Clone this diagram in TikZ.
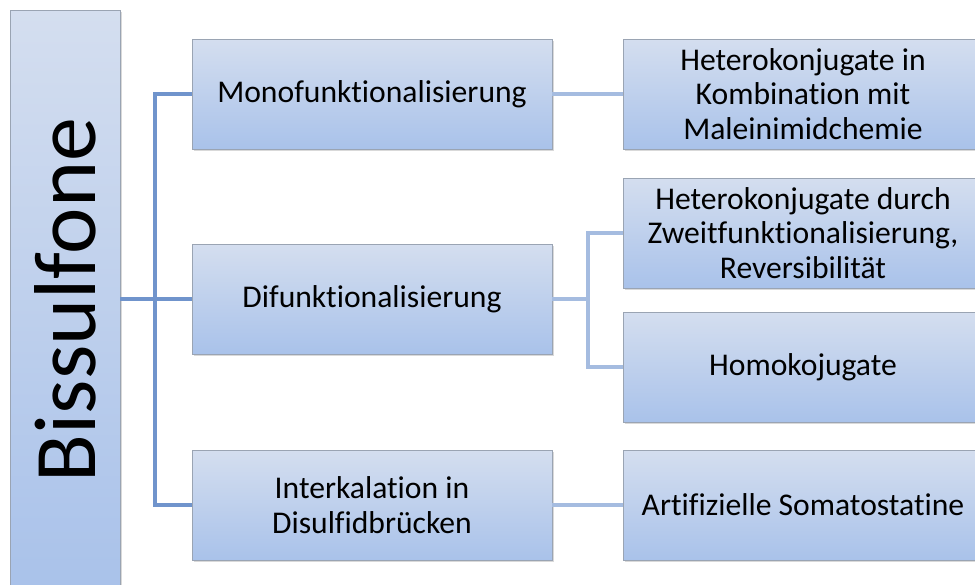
\documentclass[tikz,border=0pt]{standalone}
\usepackage{fontspec}
\setmainfont{Carlito}[Ligatures=NoCommon]
\usepackage{xcolor}
\usetikzlibrary{positioning,shadows}
\definecolor{boxtop}{HTML}{D4DEEF}
\definecolor{boxbot}{HTML}{A9C2EA}
\definecolor{boxline}{HTML}{9AA4B3}
\definecolor{treedark}{HTML}{7094CC}
\definecolor{treelight}{HTML}{A5BCE0}

\begin{document}
\begin{tikzpicture}[
    x=0.02cm, y=-0.02cm,
    item/.style={draw=boxline, thin, top color=boxtop, bottom color=boxbot, minimum width=7.2cm, minimum height=2.2cm, align=center, inner sep=2pt, font=\fontsize{18}{19.8}\selectfont, drop shadow={opacity=0.3, shadow xshift=1.3pt, shadow yshift=-1.3pt}},
    treeL/.style={line width=2pt, draw=treedark},
    treeR/.style={line width=2pt, draw=treelight}
]
    \useasboundingbox (0,0) rectangle (975,585);

    % root
    \node[item, minimum width=2.2cm, minimum height=11.6cm, font=\fontsize{50}{55}\selectfont] (bis) at (65,300) {\rotatebox{90}{Bissulfone}};

    % middle column
    \node[item] (mono) at (372,94) {Monofunktionalisierung};
    \node[item] (di) at (372,299) {Difunktionalisierung};
    \node[item] (inter) at (372,505) {Interkalation in\\Disulfidbrücken};

    % right column
    \node[item] (hetmal) at (803,94) {Heterokonjugate in\\Kombination mit\\Maleinimidchemie};
    \node[item] (hetzw) at (803,233) {Heterokonjugate durch\\Zweitfunktionalisierung,\\Reversibilität};
    \node[item] (homo) at (803,367) {Homokojugate};
    \node[item] (somato) at (803,505) {Artifizielle Somatostatine};

    \coordinate (lsplit) at (155,299);
    \coordinate (rsplit) at (588,299);

    \draw[treeL] (bis.east |- lsplit) -- (di.west);
    \draw[treeL] (mono.west) -| (lsplit) |- (inter.west);

    \draw[treeR] (mono.east) -- (hetmal.west);
    \draw[treeR] (di.east) -- (rsplit);
    \draw[treeR] (hetzw.west) -| (rsplit) |- (homo.west);
    \draw[treeR] (inter.east) -- (somato.west);
\end{tikzpicture}
\end{document}
